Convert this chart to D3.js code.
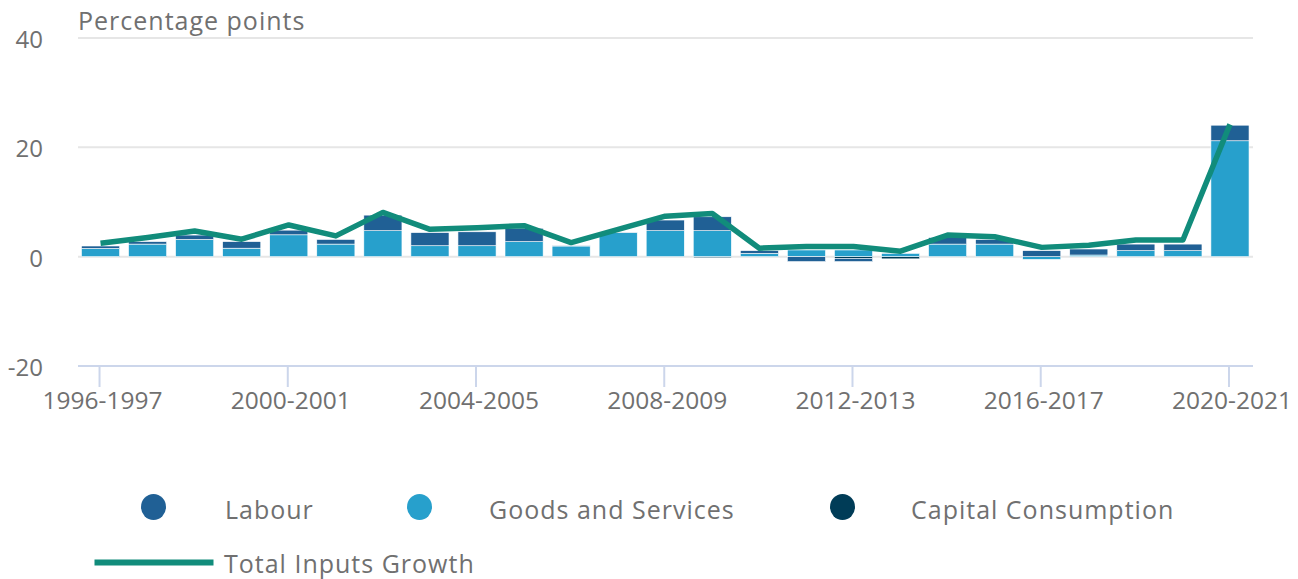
<!DOCTYPE html>
<html>
<head>
<meta charset="utf-8">
<script src="https://cdn.jsdelivr.net/npm/d3@7"></script>
<style>
  html, body { margin: 0; padding: 0; background: #fff; }
  svg { display: block; font-family: "Open Sans", sans-serif; }
</style>
</head>
<body>
<svg id="chart" width="1298" height="579"></svg>
<script>
const categories = ["1996-1997","1997-1998","1998-1999","1999-2000","2000-2001","2001-2002","2002-2003","2003-2004","2004-2005","2005-2006","2006-2007","2007-2008","2008-2009","2009-2010","2010-2011","2011-2012","2012-2013","2013-2014","2014-2015","2015-2016","2016-2017","2017-2018","2018-2019","2019-2020","2020-2021"];
const labour = [0.45, 0.45, 0.8, 1.2, 0.85, 0.85, 2.85, 2.4, 2.55, 2.45, 0.05, 0.05, 1.95, 2.55, 0.5, -0.9, -0.6, 0.0, 1.2, 0.85, 1.1, 1.1, 1.2, 1.2, 2.85];
const goodsServices = [1.5, 2.3, 3.15, 1.55, 4.0, 2.3, 4.75, 2.0, 2.0, 2.75, 1.95, 4.4, 4.75, 4.75, 0.6, 1.22, 1.22, 0.6, 2.3, 2.3, -0.5, 0.3, 1.1, 1.1, 21.2];
const capitalConsumption = [0, 0, 0, 0, 0, 0, 0, 0, 0, 0, 0, 0, 0, -0.2, 0, 0, -0.3, -0.4, 0, 0, 0, 0, 0, 0, 0];
const totalInputsGrowth = [2.45, 3.5, 4.7, 3.2, 5.8, 3.8, 8.1, 5.0, 5.3, 5.67, 2.57, 5.0, 7.4, 7.9, 1.55, 1.85, 1.85, 1.0, 3.95, 3.65, 1.7, 2.1, 3.05, 3.05, 24.2];
const yTicks = [-20, 0, 20, 40];
const xTickLabels = ["1996-1997","2000-2001","2004-2005","2008-2009","2012-2013","2016-2017","2020-2021"];

const seriesNames = ["Labour", "Goods and Services", "Capital Consumption"];
const colors = {"Labour": "#206095", "Goods and Services": "#27a0cc", "Capital Consumption": "#003c57"};
const lineColor = "#118c7b";
const textColor = "#707070";

const rows = categories.map((c, i) => ({
  cat: c,
  "Labour": labour[i],
  "Goods and Services": goodsServices[i],
  "Capital Consumption": capitalConsumption[i]
}));

const svg = d3.select("#chart");
const plotLeft = 78, plotRight = 1253, plotTop = 38, plotBottom = 366;

const x = d3.scaleBand().domain(categories).range([77, 1253.5]).paddingInner(0.19).paddingOuter(0.095);
const y = d3.scaleLinear().domain([-20, 40]).range([plotBottom, plotTop]);

// gridlines
svg.append("g").selectAll("line").data(yTicks.filter(t => t !== -20)).join("line")
  .attr("x1", plotLeft).attr("x2", plotRight)
  .attr("y1", d => y(d)).attr("y2", d => y(d))
  .attr("stroke", "#e6e6e6").attr("stroke-width", 2);

// y labels
svg.append("g").selectAll("text").data(yTicks).join("text")
  .attr("x", 43).attr("y", d => y(d) + 10)
  .attr("text-anchor", "end")
  .attr("font-size", 24).attr("fill", textColor)
  .text(d => d);

// y title
svg.append("text").attr("x", 78).attr("y", 30)
  .attr("font-size", 25).attr("letter-spacing", 1).attr("fill", textColor)
  .text("Percentage points");

// stacked bars
const stack = d3.stack().keys(["Capital Consumption", "Goods and Services", "Labour"]).offset(d3.stackOffsetDiverging);
const stacked = stack(rows);
svg.append("g").selectAll("g").data(stacked).join("g")
  .attr("fill", d => colors[d.key])
  .selectAll("rect").data(d => d).join("rect")
  .attr("x", d => x(d.data.cat))
  .attr("width", x.bandwidth())
  .attr("y", d => y(Math.max(d[0], d[1])))
  .attr("height", d => Math.abs(y(d[0]) - y(d[1])))
  .attr("stroke", "#ffffff").attr("stroke-width", 0.6);

// x axis line
svg.append("line").attr("x1", plotLeft).attr("x2", plotRight).attr("y1", plotBottom).attr("y2", plotBottom)
  .attr("stroke", "#ccd6eb").attr("stroke-width", 2);

// x ticks
const xc = c => x(c) + x.bandwidth() / 2;
const xt = svg.append("g");
xt.selectAll("line").data(xTickLabels).join("line")
  .attr("x1", d => xc(d) - 1).attr("x2", d => xc(d) - 1)
  .attr("y1", plotBottom).attr("y2", plotBottom + 21)
  .attr("stroke", "#ccd6eb").attr("stroke-width", 2);
xt.selectAll("text").data(xTickLabels).join("text")
  .attr("x", d => xc(d) + 2).attr("y", 409)
  .attr("text-anchor", "middle")
  .attr("font-size", 24.5).attr("fill", textColor)
  .text(d => d);

// line
const line = d3.line().x((d, i) => xc(categories[i])).y(d => y(d));
svg.append("path").datum(totalInputsGrowth)
  .attr("d", line)
  .attr("fill", "none").attr("stroke", lineColor).attr("stroke-width", 5.5)
  .attr("stroke-linejoin", "round");

// legend
const legendItems = [
  {name: "Labour", cx: 153.5, tx: 225},
  {name: "Goods and Services", cx: 419.5, tx: 489},
  {name: "Capital Consumption", cx: 842.5, tx: 911}
];
const lg = svg.append("g");
lg.selectAll("ellipse").data(legendItems).join("ellipse")
  .attr("cx", d => d.cx).attr("cy", 507).attr("rx", 12.5).attr("ry", 13)
  .attr("fill", d => colors[d.name]);
lg.selectAll("text").data(legendItems).join("text")
  .attr("x", d => d.tx).attr("y", 519)
  .attr("font-size", 25).attr("letter-spacing", 1).attr("fill", textColor)
  .text(d => d.name);
lg.append("line").attr("x1", 94.5).attr("x2", 213.5).attr("y1", 562.5).attr("y2", 562.5)
  .attr("stroke", lineColor).attr("stroke-width", 6);
lg.append("text").attr("x", 224).attr("y", 573)
  .attr("font-size", 25).attr("letter-spacing", 1).attr("fill", textColor)
  .text("Total Inputs Growth");
</script>
</body>
</html>
